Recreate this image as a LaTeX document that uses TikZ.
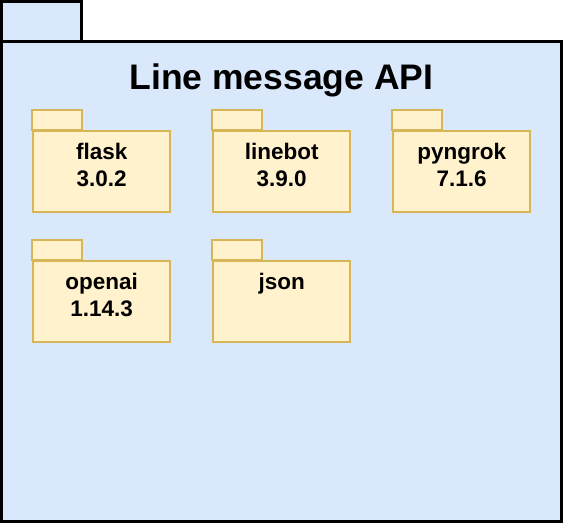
\documentclass[tikz,border=0pt]{standalone}
\usepackage{fontspec}
\setmainfont{Liberation Sans}
\usetikzlibrary{calc}
\definecolor{apiblue}{HTML}{DAE8FC}
\definecolor{pkgfill}{HTML}{FFF2CC}
\definecolor{pkgline}{HTML}{D6B656}

\begin{document}
\begin{tikzpicture}[x=1pt,y=-1pt,
  apibox/.style={draw=black,line width=3pt,fill=apiblue},
  pkgbox/.style={draw=pkgline,line width=2pt,fill=pkgfill,minimum width=136.5pt,minimum height=80.5pt,inner sep=0pt},
  pkgtab/.style={draw=pkgline,line width=2pt,fill=pkgfill},
  pkgname/.style={font=\fontsize{22.5}{27.3}\selectfont\bfseries,align=center,anchor=base,inner sep=0pt}]
  \useasboundingbox (0,0) rectangle (563,523);

  \draw[apibox] (1.5,1.5) rectangle (81.5,41.5);
  \draw[apibox] (1.5,41.5) rectangle (561.5,521);
  \node[font=\fontsize{35.5}{40}\selectfont\bfseries,anchor=base,inner sep=0pt] (title) at (281.5,89) {Line message API};

  % base of a two-line label sits on its last line
  \foreach \pkg/\px/\py/\dy/\txt in {flask/101.7/171.3/56.3/{flask\\3.0.2},
      linebot/281.7/171.3/56.3/{linebot\\3.9.0}, pyngrok/461.7/171.3/56.3/{pyngrok\\7.1.6},
      openai/101.7/301.3/56.3/{openai\\1.14.3}, json/281.7/301.3/29/{json}} {
    \node[pkgbox] (\pkg) at (\px,\py) {};
    \draw[pkgtab] (\pkg.north west) rectangle ++(50,-20);
    \node[pkgname] (\pkg-label) at ($(\pkg.north)+(0,\dy)$) {\txt};
  }
\end{tikzpicture}
\end{document}
